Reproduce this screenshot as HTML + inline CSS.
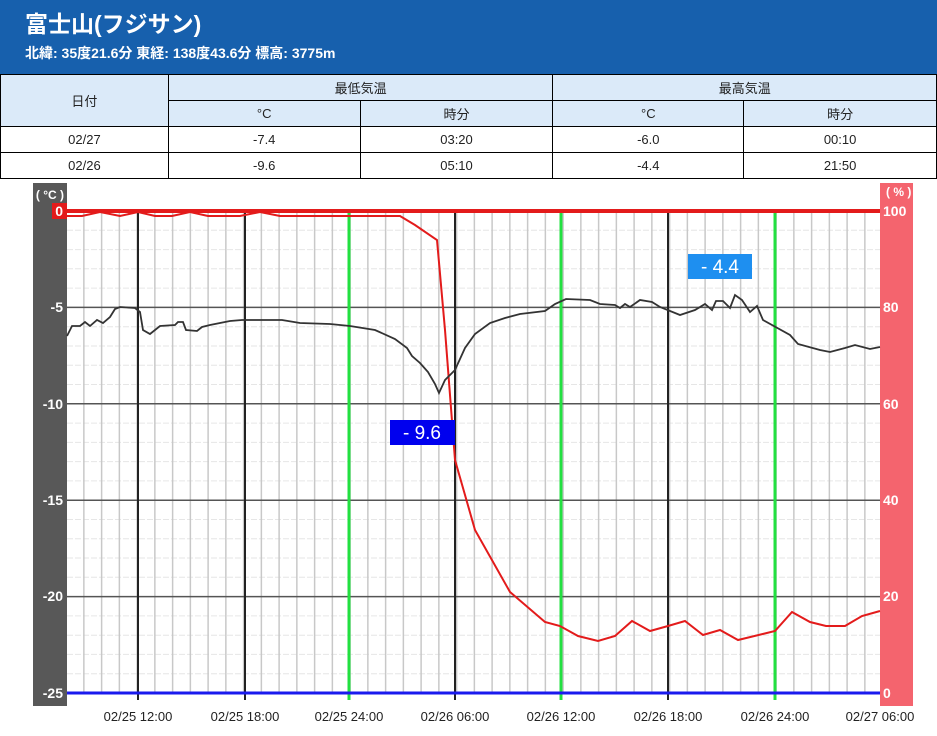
<!DOCTYPE html>
<html><head><meta charset="utf-8"><style>
body{margin:0;width:937px;height:736px;background:#fff;font-family:"Liberation Sans","Noto Sans CJK JP",sans-serif;overflow:hidden;position:relative}
.hd{position:absolute;left:0;top:0;width:937px;height:74px;background:#1760ad;color:#fff}
.hd .t{position:absolute;left:25px;top:5px;font-size:23px;font-weight:bold}
.hd .s{position:absolute;left:25px;top:43px;font-size:14px;font-weight:bold}
table{position:absolute;left:0;top:74px;width:937px;border-collapse:collapse;font-size:13px;color:#222}
td{border:1px solid #000;height:25px;text-align:center;padding:0}
.h{background:#dbeaf9}
.d{border-right:1px dotted #000}
</style></head><body>
<div class="hd"><div class="t">富士山(フジサン)</div><div class="s">北緯: 35度21.6分 東経: 138度43.6分 標高: 3775m</div></div>
<table>
<colgroup><col style="width:168px"><col style="width:192px"><col style="width:193px"><col style="width:191px"><col style="width:193px"></colgroup>
<tr><td class="h" rowspan="2">日付</td><td class="h" colspan="2">最低気温</td><td class="h" colspan="2">最高気温</td></tr>
<tr><td class="h d">°C</td><td class="h">時分</td><td class="h d">°C</td><td class="h">時分</td></tr>
<tr><td>02/27</td><td class="d">-7.4</td><td>03:20</td><td class="d">-6.0</td><td>00:10</td></tr>
<tr><td>02/26</td><td class="d">-9.6</td><td>05:10</td><td class="d">-4.4</td><td>21:50</td></tr>
</table>
<svg width="937" height="736" style="position:absolute;left:0;top:0" font-family="Liberation Sans, sans-serif">
<rect x="33" y="183" width="34" height="523" fill="#585858"/>
<rect x="880" y="183" width="33" height="523" fill="#f4646e"/>
<g stroke="#e6e6e6" stroke-width="1" stroke-dasharray="6,2">
<line x1="67" x2="880" y1="230.3" y2="230.3"/><line x1="67" x2="880" y1="249.6" y2="249.6"/><line x1="67" x2="880" y1="268.8" y2="268.8"/><line x1="67" x2="880" y1="288.1" y2="288.1"/>
<line x1="67" x2="880" y1="326.7" y2="326.7"/><line x1="67" x2="880" y1="346" y2="346"/><line x1="67" x2="880" y1="365.2" y2="365.2"/><line x1="67" x2="880" y1="384.5" y2="384.5"/>
<line x1="67" x2="880" y1="423.1" y2="423.1"/><line x1="67" x2="880" y1="442.4" y2="442.4"/><line x1="67" x2="880" y1="461.6" y2="461.6"/><line x1="67" x2="880" y1="480.9" y2="480.9"/>
<line x1="67" x2="880" y1="519.5" y2="519.5"/><line x1="67" x2="880" y1="538.8" y2="538.8"/><line x1="67" x2="880" y1="558" y2="558"/><line x1="67" x2="880" y1="577.3" y2="577.3"/>
<line x1="67" x2="880" y1="615.9" y2="615.9"/><line x1="67" x2="880" y1="635.2" y2="635.2"/><line x1="67" x2="880" y1="654.4" y2="654.4"/><line x1="67" x2="880" y1="673.7" y2="673.7"/>
</g>
<g stroke="#c8c8c8" stroke-width="1.5" id="vm"></g>
<g stroke="#555" stroke-width="1.5">
<line x1="67" x2="880" y1="307.4" y2="307.4"/><line x1="67" x2="880" y1="403.8" y2="403.8"/><line x1="67" x2="880" y1="500.2" y2="500.2"/><line x1="67" x2="880" y1="596.6" y2="596.6"/>
</g>
<g stroke="#222" stroke-width="2">
<line x1="138" x2="138" y1="211" y2="700"/><line x1="245" x2="245" y1="211" y2="700"/><line x1="455" x2="455" y1="211" y2="700"/><line x1="668" x2="668" y1="211" y2="700"/>
</g>
<g stroke="#22e040" stroke-width="3">
<line x1="349" x2="349" y1="211" y2="700"/><line x1="561" x2="561" y1="211" y2="700"/><line x1="775" x2="775" y1="211" y2="700"/>
</g>
<line x1="67" x2="880" y1="693" y2="693" stroke="#1a1aee" stroke-width="3"/>
<line x1="67" x2="880" y1="211" y2="211" stroke="#e31b1b" stroke-width="4"/>
<polyline fill="none" stroke="#e31b1b" stroke-width="2" points="67,216 82,216 100,212 120,216 138,212 155,216 172,216 190,212 208,216 240,216 260,212 280,216 400,216 415,225 437,240 445,330 455,460 475,530 510,592 545,622 560,626 578,636 598,641 615,636 632,621 650,631 668,626 685,621 703,635 720,630 738,640 775,631 792,612 810,622 826,626 845,626 862,616 880,611"/>
<polyline fill="none" stroke="#333" stroke-width="1.8" points="67,336 72,326 80,326 85,322 90,326 97,320 103,323 110,317 115,309 120,307 135,308 140,312 143,330 150,334 160,326 175,325 178,322 183,322 186,330 197,331 202,327 210,325 230,321 242,320 262,320 282,320 300,323 330,324 350,326 375,330 395,339 407,348 412,356 420,363 428,372 435,384 439,393 445,380 455,370 465,348 475,334 490,323 505,318 520,314 545,311 555,304 566,299 590,300 600,304 615,305 620,308 625,304 630,307 640,300 652,302 660,307 680,315 695,310 705,304 712,310 716,301 723,301 730,308 735,295 742,300 750,312 757,306 763,320 790,335 798,344 820,350 830,352 845,348 855,345 870,349 880,347"/>
<rect x="390" y="420" width="65" height="25" fill="#0000ee"/><text x="422" y="439" fill="#fff" font-size="19" text-anchor="middle">- 9.6</text>
<rect x="688" y="254" width="64" height="25" fill="#1e8ff0"/><text x="720" y="273" fill="#fff" font-size="19" text-anchor="middle">- 4.4</text>
<rect x="52" y="203" width="15" height="16" fill="#e31b1b"/>
<g fill="#fff" font-size="14" text-anchor="end" font-weight="bold">
<text x="64" y="199" font-size="12">( °C )</text>
<text x="63" y="216">0</text><text x="63" y="312">-5</text><text x="63" y="409">-10</text><text x="63" y="505">-15</text><text x="63" y="601">-20</text><text x="63" y="698">-25</text>
</g>
<g fill="#fff" font-size="14" text-anchor="start" font-weight="bold">
<text x="886" y="196" font-size="12">( % )</text>
<text x="883" y="216">100</text><text x="883" y="312">80</text><text x="883" y="409">60</text><text x="883" y="505">40</text><text x="883" y="601">20</text><text x="883" y="698">0</text>
</g>
<g fill="#222" font-size="13" text-anchor="middle">
<text x="138" y="721">02/25 12:00</text><text x="245" y="721">02/25 18:00</text><text x="349" y="721">02/25 24:00</text><text x="455" y="721">02/26 06:00</text><text x="561" y="721">02/26 12:00</text><text x="668" y="721">02/26 18:00</text><text x="775" y="721">02/26 24:00</text><text x="880" y="721">02/27 06:00</text>
</g>
</svg>
<script>
var g=document.getElementById('vm'),s='';
for(var x=67+17.75*0.95;x<880;x+=17.75){s+='<line x1="'+x+'" x2="'+x+'" y1="211" y2="693"/>';}
g.innerHTML=s;
</script>
</body></html>
